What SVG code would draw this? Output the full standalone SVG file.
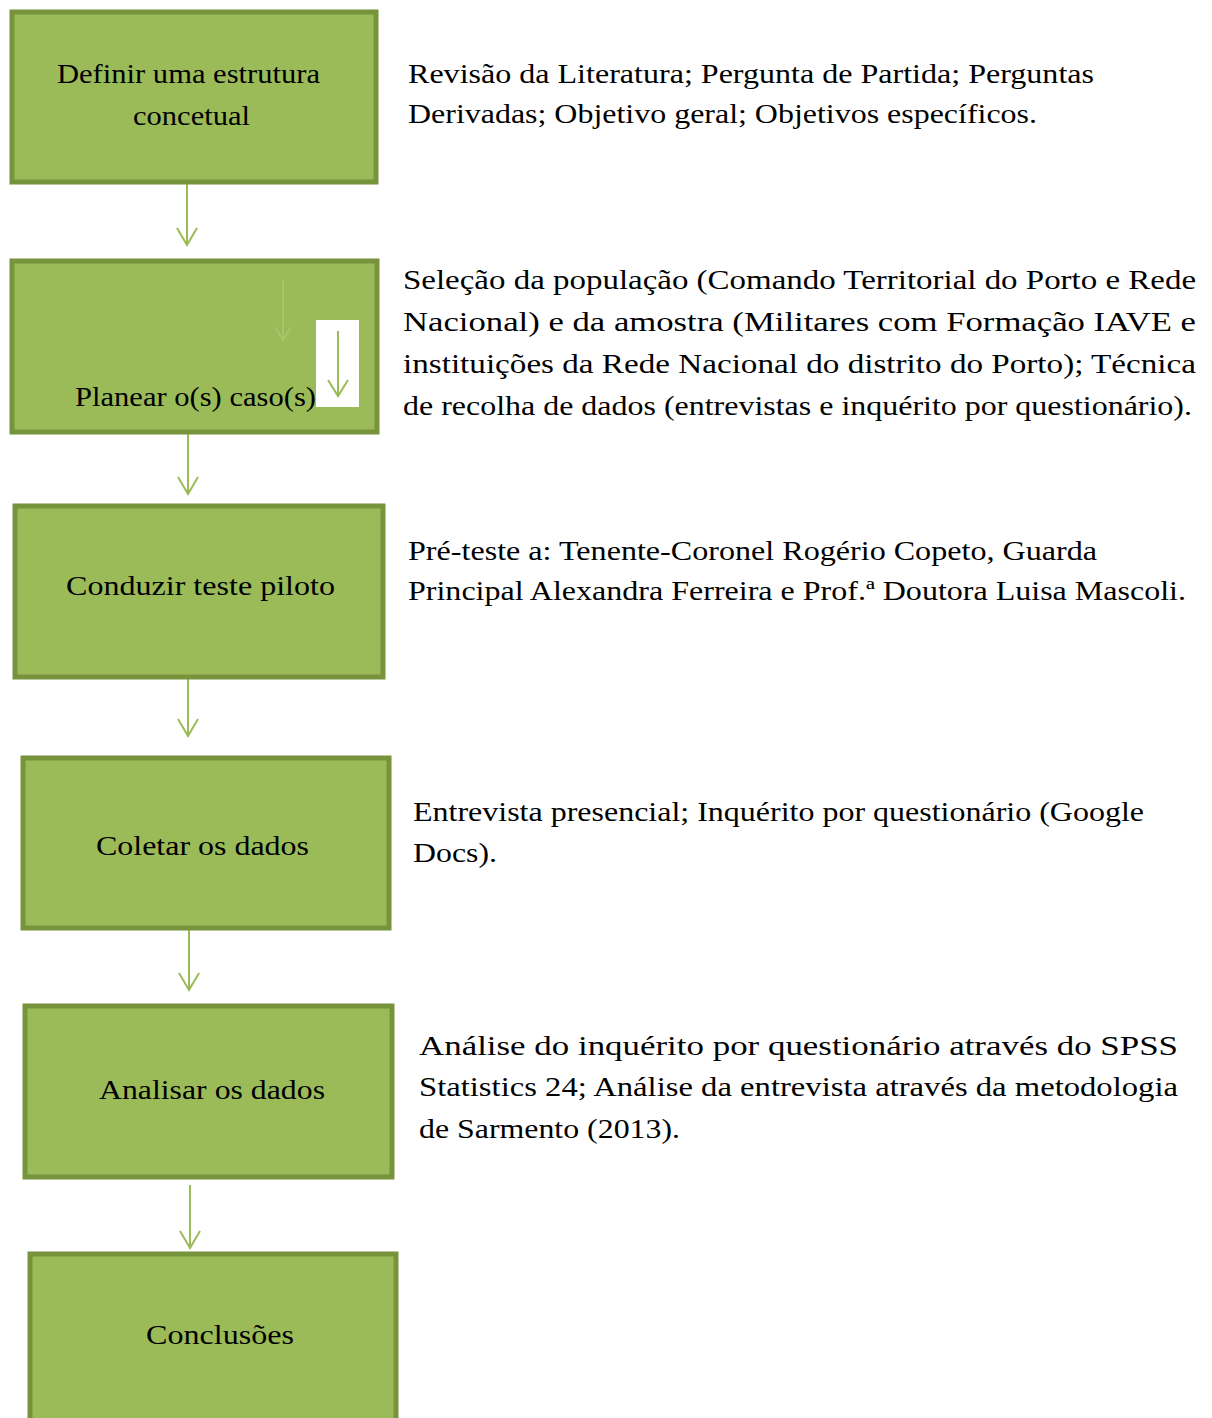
<svg xmlns="http://www.w3.org/2000/svg" width="1212" height="1418" viewBox="0 0 1212 1418">
<defs>
<style>
.box{fill:#9BBB59;stroke:#77933C;stroke-width:5;stroke-linejoin:miter}
.con{fill:none;stroke:#9BBB59;stroke-width:2}
</style>
</defs>
<rect width="1212" height="1418" fill="#fff"/>
<g id="connectors">
<path class="con" d="M187 183V245M177 228L187 245L197 228"/>
<path class="con" d="M188 433V494M178 477L188 494L198 477"/>
<path class="con" d="M188 678V736M178 719L188 736L198 719"/>
<path class="con" d="M189 928V990M179 973L189 990L199 973"/>
<path class="con" d="M190 1185V1248M180 1231L190 1248L200 1231"/>
</g>
<g font-family="Liberation Serif, serif" font-size="28" fill="#000">
<g id="n1">
<rect class="box" x="12" y="12" width="364" height="170"/>
<text x="57" y="83" textLength="263" lengthAdjust="spacingAndGlyphs">Definir uma estrutura</text>
<text x="133" y="125" textLength="117" lengthAdjust="spacingAndGlyphs">concetual</text>
</g>
<g id="n2">
<rect class="box" x="12" y="261" width="365" height="171"/>
<path fill="none" stroke="#A6C468" stroke-width="2" d="M283 280V340M275 327L283 340L291 327"/>
<rect x="316" y="320" width="43" height="87" fill="#fff"/>
<path class="con" d="M338 331V396M328 380L338 396L348 380"/>
<text x="75" y="406" textLength="241" lengthAdjust="spacingAndGlyphs">Planear o(s) caso(s)</text>
</g>
<g id="n3">
<rect class="box" x="15" y="506" width="368" height="171"/>
<text x="66" y="595" textLength="269" lengthAdjust="spacingAndGlyphs">Conduzir teste piloto</text>
</g>
<g id="n4">
<rect class="box" x="23" y="758" width="366" height="170"/>
<text x="96" y="855" textLength="213" lengthAdjust="spacingAndGlyphs">Coletar os dados</text>
</g>
<g id="n5">
<rect class="box" x="25" y="1006" width="367" height="171"/>
<text x="99" y="1099" textLength="226" lengthAdjust="spacingAndGlyphs">Analisar os dados</text>
</g>
<g id="n6">
<rect class="box" x="30" y="1254" width="366" height="200"/>
<text x="146" y="1344" textLength="148" lengthAdjust="spacingAndGlyphs">Conclusões</text>
</g>
<g id="notes">
<text x="408" y="83" textLength="686" lengthAdjust="spacingAndGlyphs">Revisão da Literatura; Pergunta de Partida; Perguntas</text>
<text x="408" y="123" textLength="629" lengthAdjust="spacingAndGlyphs">Derivadas; Objetivo geral; Objetivos específicos.</text>
<text x="403" y="289" textLength="793" lengthAdjust="spacingAndGlyphs">Seleção da população (Comando Territorial do Porto e Rede</text>
<text x="403" y="331" textLength="793" lengthAdjust="spacingAndGlyphs">Nacional) e da amostra (Militares com Formação IAVE e</text>
<text x="403" y="373" textLength="793" lengthAdjust="spacingAndGlyphs">instituições da Rede Nacional do distrito do Porto); Técnica</text>
<text x="403" y="415" textLength="789" lengthAdjust="spacingAndGlyphs">de recolha de dados (entrevistas e inquérito por questionário).</text>
<text x="408" y="560" textLength="689" lengthAdjust="spacingAndGlyphs">Pré-teste a: Tenente-Coronel Rogério Copeto, Guarda</text>
<text x="408" y="600" textLength="778" lengthAdjust="spacingAndGlyphs">Principal Alexandra Ferreira e Prof.ª Doutora Luisa Mascoli.</text>
<text x="413" y="821" textLength="731" lengthAdjust="spacingAndGlyphs">Entrevista presencial; Inquérito por questionário (Google</text>
<text x="413" y="862" textLength="84" lengthAdjust="spacingAndGlyphs">Docs).</text>
<text x="419" y="1055" textLength="759" lengthAdjust="spacingAndGlyphs">Análise do inquérito por questionário através do SPSS</text>
<text x="419" y="1096" textLength="759" lengthAdjust="spacingAndGlyphs">Statistics 24; Análise da entrevista através da metodologia</text>
<text x="419" y="1138" textLength="261" lengthAdjust="spacingAndGlyphs">de Sarmento (2013).</text>
</g>
</g>
</svg>
